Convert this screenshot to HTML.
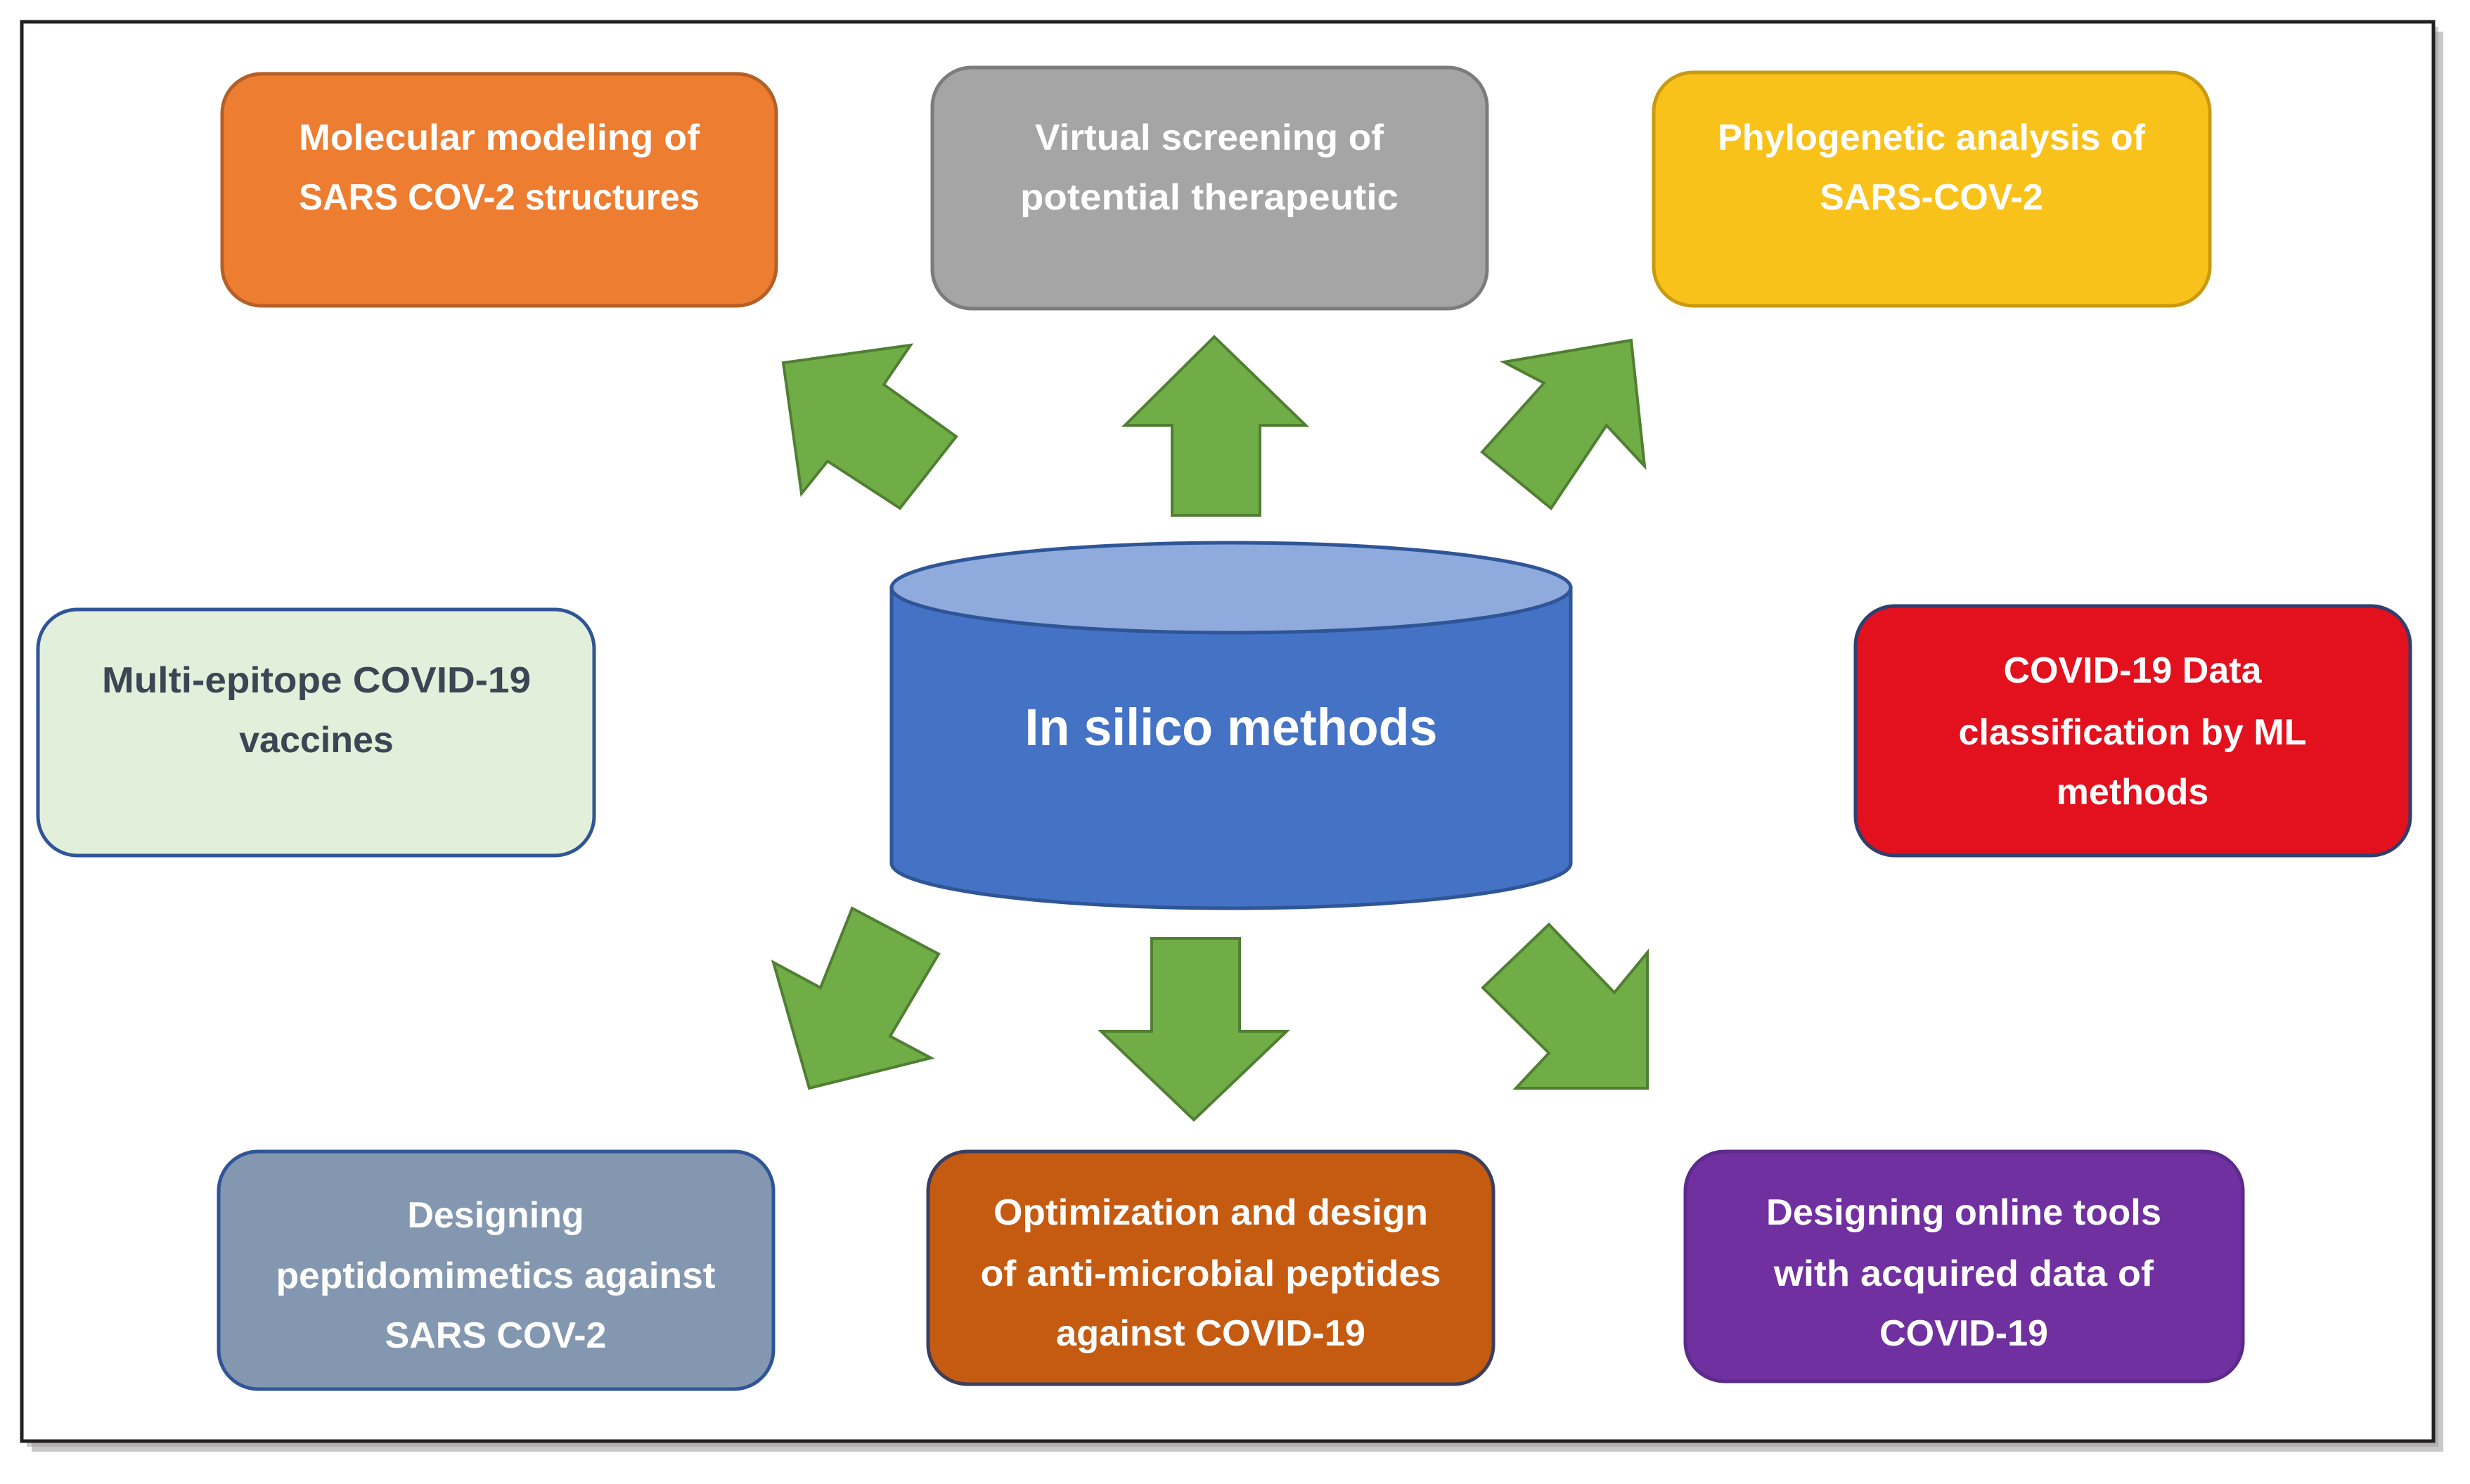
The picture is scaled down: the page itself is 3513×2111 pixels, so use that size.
<!DOCTYPE html>
<html><head><meta charset="utf-8"><style>
html,body{margin:0;padding:0;background:#fff;}
svg{display:block;}
text{font-family:"Liberation Sans",sans-serif;font-weight:bold;text-anchor:middle;}
</style></head><body>
<svg width="3513" height="2111" viewBox="0 0 3513 2111" xmlns="http://www.w3.org/2000/svg">
<rect x="0" y="0" width="3513" height="2111" fill="#fff"/>
<rect x="45" y="45" width="3430" height="2020" fill="#c8c8c8"/>
<rect x="38" y="38" width="3430" height="2020" fill="#9a9a9a" opacity="0.5"/>
<rect x="31" y="31" width="3430" height="2019" fill="#fff" stroke="#231f20" stroke-width="5"/>

<g font-size="52">
<rect x="316" y="105" width="788" height="330" rx="56" fill="#ED7D31" stroke="#B45F28" stroke-width="5"/>
<text x="710" y="213" fill="#fff" textLength="570" lengthAdjust="spacingAndGlyphs">Molecular modeling of</text>
<text x="710" y="298" fill="#fff" textLength="570" lengthAdjust="spacingAndGlyphs">SARS COV-2 structures</text>

<rect x="1326" y="96" width="789" height="343" rx="56" fill="#A5A5A5" stroke="#7c7c7c" stroke-width="5"/>
<text x="1720" y="213" fill="#fff" textLength="496" lengthAdjust="spacingAndGlyphs">Virtual screening of</text>
<text x="1720" y="298" fill="#fff" textLength="538" lengthAdjust="spacingAndGlyphs">potential therapeutic</text>

<rect x="2352" y="103" width="791" height="332" rx="56" fill="#F9C21A" stroke="#C99A10" stroke-width="5"/>
<text x="2747" y="213" fill="#fff" textLength="608" lengthAdjust="spacingAndGlyphs">Phylogenetic analysis of</text>
<text x="2747" y="298" fill="#fff">SARS-COV-2</text>

<rect x="54" y="867" width="791" height="350" rx="56" fill="#E2EFDA" stroke="#2F5597" stroke-width="5"/>
<text x="450" y="985" fill="#3a4654" textLength="610" lengthAdjust="spacingAndGlyphs">Multi-epitope COVID-19</text>
<text x="450" y="1070" fill="#3a4654">vaccines</text>

<rect x="2639" y="862" width="789" height="355" rx="56" fill="#E3101E" stroke="#2F3F6F" stroke-width="5"/>
<text x="3033" y="971" fill="#fff">COVID-19 Data</text>
<text x="3033" y="1059" fill="#fff" textLength="495" lengthAdjust="spacingAndGlyphs">classification by ML</text>
<text x="3033" y="1144" fill="#fff">methods</text>

<rect x="311" y="1638" width="789" height="338" rx="56" fill="#8497B0" stroke="#2F5597" stroke-width="5"/>
<text x="705" y="1746" fill="#fff">Designing</text>
<text x="705" y="1832" fill="#fff" textLength="625" lengthAdjust="spacingAndGlyphs">peptidomimetics against</text>
<text x="705" y="1917" fill="#fff">SARS COV-2</text>

<rect x="1320" y="1638" width="804" height="331" rx="56" fill="#C55A11" stroke="#3a3f5f" stroke-width="5"/>
<text x="1722" y="1742" fill="#fff" textLength="618" lengthAdjust="spacingAndGlyphs">Optimization and design</text>
<text x="1722" y="1829" fill="#fff" textLength="655" lengthAdjust="spacingAndGlyphs">of anti-microbial peptides</text>
<text x="1722" y="1914" fill="#fff" textLength="440" lengthAdjust="spacingAndGlyphs">against COVID-19</text>

<rect x="2397" y="1638" width="793" height="327" rx="56" fill="#7030A0" stroke="#5b2a8a" stroke-width="5"/>
<text x="2793" y="1742" fill="#fff" textLength="562" lengthAdjust="spacingAndGlyphs">Designing online tools</text>
<text x="2793" y="1829" fill="#fff" textLength="540" lengthAdjust="spacingAndGlyphs">with acquired data of</text>
<text x="2793" y="1914" fill="#fff">COVID-19</text>
</g>

<path d="M1268,836 L1268,1228 A483,64 0 0 0 2234,1228 L2234,836 Z" fill="#4472C4" stroke="#2F5597" stroke-width="5"/>
<ellipse cx="1751" cy="836" rx="483" ry="64" fill="#8FAADC" stroke="#2F5597" stroke-width="5"/>
<text x="1751" y="1060" font-size="74" fill="#fff" textLength="587" lengthAdjust="spacingAndGlyphs">In silico methods</text>

<g fill="#70AD47" stroke="#507E32" stroke-width="4" stroke-linejoin="miter">
<polygon points="1727,479 1857,605 1792,605 1792,733 1667,733 1667,605 1600,605"/>
<polygon points="1638,1335 1763,1335 1763,1467 1830,1467 1698,1593 1566,1467 1638,1467"/>
<polygon points="1114,516 1295,491 1257,547 1360,621 1280,723 1177,656 1140,702"/>
<polygon points="2320,484 2339,663 2285,605 2206,723 2108,643 2196,545 2139,515"/>
<polygon points="1212,1292 1335,1357 1266,1474 1324,1505 1151,1548 1100,1369 1167,1405"/>
<polygon points="2203,1315 2296,1412 2343,1355 2343,1548 2156,1548 2203,1498 2109,1405"/>
</g>
</svg>
</body></html>
